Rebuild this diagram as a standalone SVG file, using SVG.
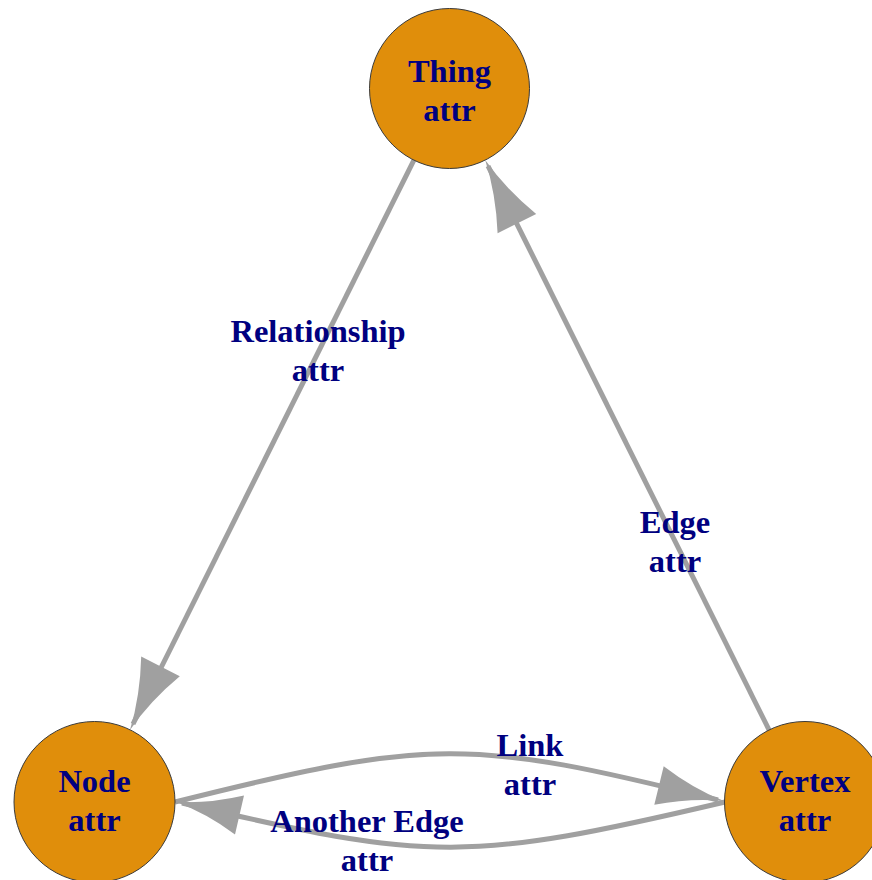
<svg xmlns="http://www.w3.org/2000/svg" width="872" height="880" viewBox="0 0 872 880">
<style>
.edge{fill:none;stroke:#A0A0A0;stroke-width:5}
.head{fill:#A0A0A0;stroke:none}
.node{fill:#E08E0B;stroke:#3a3a3a;stroke-width:1}
.lbl{font-family:"Liberation Serif","Times New Roman",serif;font-weight:bold;font-size:32.5px;fill:#000080;text-anchor:middle}
</style>
<rect width="872" height="880" fill="#FFFFFF"/>
<g id="edges">
<g id="edge-relationship">
<line class="edge" x1="413.9" y1="160.1" x2="133" y2="724"/>
<path class="head" d="M179.8,676.3 Q150.2,700.8 130,730 Q140.3,695.5 141.2,656.4 Z"/>
<text class="lbl" x="318" y="342">Relationship</text>
<text class="lbl" x="318" y="380.5">attr</text>
</g>
<g id="edge-edge">
<line class="edge" x1="769.3" y1="730.4" x2="488" y2="166"/>
<path class="head" d="M536.2,214 Q506,189.3 485.2,160.1 Q496.1,194.4 497.6,233.3 Z"/>
<text class="lbl" x="675" y="533">Edge</text>
<text class="lbl" x="675" y="571.5">attr</text>
</g>
<g id="edge-link">
<path class="edge" d="M175,802 C430,738 470,738 718,800"/>
<path class="head" d="M663.7,766.2 Q692.7,788.5 724,801 Q690.3,798 654.3,804.8 Z"/>
<text class="lbl" x="530" y="756">Link</text>
<text class="lbl" x="530" y="794.5">attr</text>
</g>
<g id="edge-another">
<path class="edge" d="M725,802 C470,862 430,862 182,803"/>
<path class="head" d="M244,795.6 Q208.9,803.75 176,802 Q206.6,813.25 235,834.4 Z"/>
<text class="lbl" x="367" y="832">Another Edge</text>
<text class="lbl" x="367" y="870.5">attr</text>
</g>
</g>
<g id="node-thing">
<circle class="node" cx="449.5" cy="88.5" r="80"/>
<text class="lbl" x="449.5" y="82">Thing</text>
<text class="lbl" x="449.5" y="120.5">attr</text>
</g>
<g id="node-node">
<circle class="node" cx="94.5" cy="802" r="80.5"/>
<text class="lbl" x="94.5" y="792">Node</text>
<text class="lbl" x="94.5" y="830.5">attr</text>
</g>
<g id="node-vertex">
<circle class="node" cx="805" cy="802" r="80.5"/>
<text class="lbl" x="805" y="792">Vertex</text>
<text class="lbl" x="805" y="830.5">attr</text>
</g>
</svg>
